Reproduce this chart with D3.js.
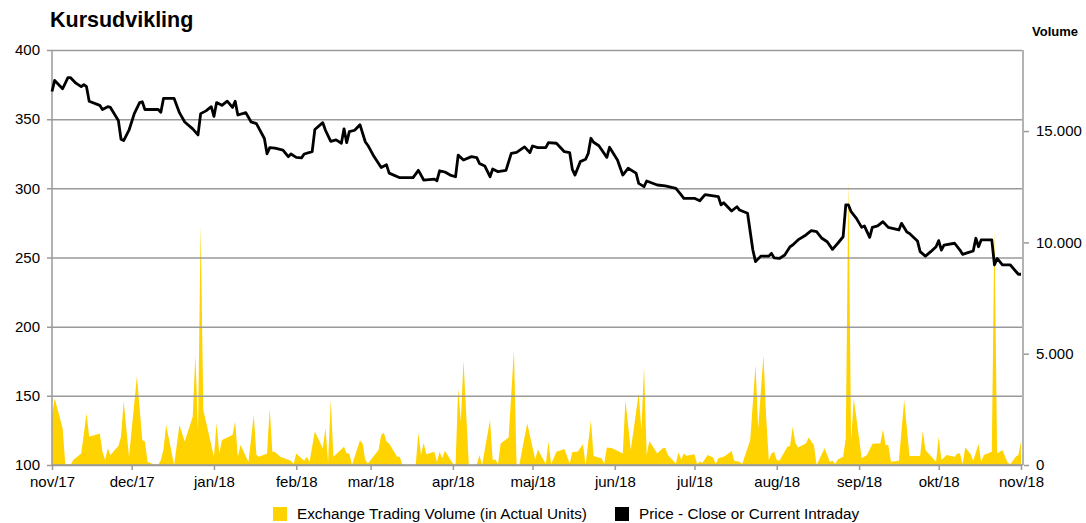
<!DOCTYPE html>
<html>
<head>
<meta charset="utf-8">
<script src="https://cdn.jsdelivr.net/npm/d3@7"></script>
<style>
  body { margin: 0; background: #fff; }
  text { font-family: "Liberation Sans", Arial, sans-serif; }
</style>
</head>
<body>
<div id="my_dataviz"></div>
<script>
// closing price (DKK) per trading day
const priceData = [
  ["2017-11-01",370],["2017-11-02",378],["2017-11-05",372],["2017-11-07",380],["2017-11-08",380],
  ["2017-11-10",376],["2017-11-12",373.5],["2017-11-13",375],["2017-11-14",373.5],["2017-11-15",363],
  ["2017-11-19",360],["2017-11-20",357],["2017-11-22",359],["2017-11-23",358.5],["2017-11-26",349],
  ["2017-11-27",335.5],["2017-11-28",334.5],["2017-11-30",342],["2017-12-02",354],["2017-12-04",362],
  ["2017-12-05",362.6],["2017-12-06",357],["2017-12-11",357],["2017-12-12",355],["2017-12-13",365],
  ["2017-12-17",365],["2017-12-19",354.7],["2017-12-21",348],["2017-12-24",343],["2017-12-26",338.6],
  ["2017-12-27",354],["2017-12-29",356],["2017-12-31",359],["2018-01-01",352],["2018-01-02",362],
  ["2018-01-04",360],["2018-01-06",363],["2018-01-08",358.5],["2018-01-09",363],["2018-01-10",353],
  ["2018-01-13",354.7],["2018-01-15",348],["2018-01-17",346.8],["2018-01-20",336],["2018-01-21",325],
  ["2018-01-22",329.4],["2018-01-24",329],["2018-01-27",327.7],["2018-01-29",322.9],["2018-01-30",324.8],
  ["2018-02-01",322.4],["2018-02-03",322],["2018-02-04",324.8],["2018-02-07",326.5],["2018-02-08",342.5],
  ["2018-02-11",347.5],["2018-02-12",342],["2018-02-14",334],["2018-02-16",335],["2018-02-18",332.6],
  ["2018-02-19",343],["2018-02-20",333],["2018-02-21",341],["2018-02-23",342],["2018-02-25",346],
  ["2018-02-27",333.7],["2018-02-28",331],["2018-03-02",324],["2018-03-05",315],["2018-03-07",317],
  ["2018-03-08",311],["2018-03-12",307.7],["2018-03-17",307.7],["2018-03-19",313],["2018-03-20",309.6],
  ["2018-03-21",306],["2018-03-25",306.7],["2018-03-26",305.5],["2018-03-27",312.7],["2018-03-29",311.8],
  ["2018-03-31",309.6],["2018-04-02",308.4],["2018-04-03",324],["2018-04-05",320.5],["2018-04-08",322.9],
  ["2018-04-10",322.2],["2018-04-11",318],["2018-04-13",316.2],["2018-04-15",308.4],["2018-04-16",314],
  ["2018-04-18",312],["2018-04-21",313],["2018-04-23",325.3],["2018-04-25",326],["2018-04-28",330],
  ["2018-04-30",325.8],["2018-05-01",330.6],["2018-05-03",329.4],["2018-05-06",329.4],["2018-05-07",333],
  ["2018-05-10",332.6],["2018-05-13",326.5],["2018-05-15",325.8],["2018-05-16",313.7],["2018-05-17",309.6],
  ["2018-05-19",319.3],["2018-05-21",321],["2018-05-22",325.3],["2018-05-23",336.2],["2018-05-24",333.3],
  ["2018-05-26",330.8],["2018-05-29",322.4],["2018-05-30",329.7],["2018-06-02",320.5],["2018-06-04",309.6],
  ["2018-06-06",314.5],["2018-06-09",311],["2018-06-10",303.6],["2018-06-12",301.2],["2018-06-13",305.3],
  ["2018-06-17",302.4],["2018-06-20",301.7],["2018-06-24",300],["2018-06-26",295.2],["2018-06-27",292.8],
  ["2018-07-01",292.8],["2018-07-03",291],["2018-07-05",295.5],["2018-07-10",294],["2018-07-11",288],
  ["2018-07-12",289.6],["2018-07-15",283.6],["2018-07-17",286.7],["2018-07-18",284.3],["2018-07-21",282],
  ["2018-07-23",255.4],["2018-07-24",247],["2018-07-26",251],["2018-07-29",251],["2018-07-30",253],
  ["2018-07-31",249.7],["2018-08-02",249.3],["2018-08-04",251.8],["2018-08-06",257.8],["2018-08-07",259],
  ["2018-08-09",262.7],["2018-08-12",266.3],["2018-08-14",269.4],["2018-08-16",268.7],["2018-08-18",263.9],
  ["2018-08-20",261.4],["2018-08-22",255.9],["2018-08-24",260.3],["2018-08-26",265],["2018-08-27",288],
  ["2018-08-28",288],["2018-08-29",283.1],["2018-08-31",278.3],["2018-09-02",271.8],["2018-09-03",272.8],
  ["2018-09-05",264.6],["2018-09-06",271.8],["2018-09-08",272.8],["2018-09-10",275.9],["2018-09-12",271.8],
  ["2018-09-16",269.9],["2018-09-17",274.7],["2018-09-19",268.4],["2018-09-20",267.4],["2018-09-23",262],
  ["2018-09-24",254.2],["2018-09-26",251],["2018-09-28",254.2],["2018-09-30",257.8],["2018-10-01",262.2],
  ["2018-10-02",255.4],["2018-10-03",259],["2018-10-07",260.3],["2018-10-09",255.4],["2018-10-10",252.3],
  ["2018-10-12",253.5],["2018-10-14",254.7],["2018-10-15",263.9],["2018-10-16",257.8],["2018-10-17",262.7],
  ["2018-10-21",262.7],["2018-10-22",244.6],["2018-10-23",249.3],["2018-10-25",244.6],["2018-10-28",244.6],
  ["2018-10-31",237.9],["2018-11-01",237.9]
];

// exchange trading volume (units)
const volumeData = [
  ["2017-11-01",2200],["2017-11-02",3000],["2017-11-05",1650],["2017-11-06",50],["2017-11-08",0],
  ["2017-11-09",220],["2017-11-12",520],["2017-11-14",2320],["2017-11-15",1270],["2017-11-19",1420],
  ["2017-11-20",600],["2017-11-21",220],["2017-11-22",750],["2017-11-23",450],["2017-11-26",850],
  ["2017-11-27",1270],["2017-11-28",2870],["2017-11-30",370],["2017-12-03",4000],["2017-12-05",1120],
  ["2017-12-06",1050],["2017-12-07",150],["2017-12-09",40],["2017-12-11",0],["2017-12-12",220],
  ["2017-12-13",700],["2017-12-14",1800],["2017-12-17",0],["2017-12-19",1800],["2017-12-21",1050],
  ["2017-12-24",2170],["2017-12-25",4940],["2017-12-26",1570],["2017-12-27",10780],["2017-12-28",2470],
  ["2018-01-01",370],["2018-01-02",1870],["2018-01-03",520],["2018-01-04",1120],["2018-01-08",1350],
  ["2018-01-09",1950],["2018-01-10",370],["2018-01-11",900],["2018-01-14",150],["2018-01-16",2250],
  ["2018-01-17",450],["2018-01-18",370],["2018-01-21",520],["2018-01-22",2550],["2018-01-23",600],
  ["2018-01-24",580],["2018-01-26",370],["2018-01-30",190],["2018-01-31",40],["2018-02-01",520],
  ["2018-02-04",190],["2018-02-05",370],["2018-02-06",150],["2018-02-08",1500],["2018-02-11",750],
  ["2018-02-12",1650],["2018-02-13",150],["2018-02-14",2920],["2018-02-15",370],["2018-02-19",820],
  ["2018-02-20",520],["2018-02-21",520],["2018-02-22",0],["2018-02-25",1100],["2018-02-26",970],
  ["2018-02-27",220],["2018-02-28",70],["2018-03-04",670],["2018-03-05",1350],["2018-03-06",1450],
  ["2018-03-07",1050],["2018-03-08",970],["2018-03-11",370],["2018-03-12",370],["2018-03-13",0],
  ["2018-03-18",0],["2018-03-19",1450],["2018-03-20",450],["2018-03-21",1000],["2018-03-22",480],
  ["2018-03-25",600],["2018-03-26",150],["2018-03-27",600],["2018-03-28",300],["2018-03-29",640],
  ["2018-04-01",70],["2018-04-02",0],["2018-04-03",3440],["2018-04-04",1950],["2018-04-05",4710],
  ["2018-04-07",0],["2018-04-10",0],["2018-04-11",450],["2018-04-12",0],["2018-04-15",2020],
  ["2018-04-16",220],["2018-04-17",250],["2018-04-18",40],["2018-04-19",970],["2018-04-22",1240],
  ["2018-04-24",5160],["2018-04-25",0],["2018-04-26",0],["2018-04-29",1870],["2018-05-02",250],
  ["2018-05-03",700],["2018-05-06",40],["2018-05-07",1050],["2018-05-08",40],["2018-05-10",600],
  ["2018-05-13",720],["2018-05-15",70],["2018-05-16",580],["2018-05-18",600],["2018-05-20",930],
  ["2018-05-21",0],["2018-05-23",2020],["2018-05-24",400],["2018-05-27",300],["2018-05-28",70],
  ["2018-05-29",790],["2018-05-31",750],["2018-06-04",520],["2018-06-05",2920],["2018-06-07",670],
  ["2018-06-10",3220],["2018-06-11",1570],["2018-06-12",4410],["2018-06-13",450],["2018-06-14",1080],
  ["2018-06-17",520],["2018-06-19",750],["2018-06-20",780],["2018-06-21",450],["2018-06-24",70],
  ["2018-06-25",570],["2018-06-26",250],["2018-06-27",520],["2018-06-28",420],["2018-07-01",480],
  ["2018-07-02",40],["2018-07-03",150],["2018-07-04",100],["2018-07-06",450],["2018-07-08",340],
  ["2018-07-09",40],["2018-07-10",300],["2018-07-12",370],["2018-07-13",450],["2018-07-15",630],
  ["2018-07-16",190],["2018-07-18",150],["2018-07-19",40],["2018-07-22",1120],["2018-07-24",4490],
  ["2018-07-25",1650],["2018-07-27",4940],["2018-07-28",2170],["2018-07-29",220],["2018-07-30",520],
  ["2018-07-31",600],["2018-08-01",220],["2018-08-02",190],["2018-08-05",820],["2018-08-06",850],
  ["2018-08-07",1720],["2018-08-08",1000],["2018-08-09",790],["2018-08-12",970],["2018-08-13",1230],
  ["2018-08-15",900],["2018-08-16",0],["2018-08-19",750],["2018-08-21",150],["2018-08-22",190],
  ["2018-08-23",40],["2018-08-24",250],["2018-08-26",370],["2018-08-27",1200],["2018-08-28",12800],
  ["2018-08-29",1120],["2018-08-30",3000],["2018-09-02",300],["2018-09-04",450],["2018-09-06",940],
  ["2018-09-07",970],["2018-09-09",970],["2018-09-10",1600],["2018-09-11",900],["2018-09-12",900],
  ["2018-09-13",150],["2018-09-16",190],["2018-09-18",2920],["2018-09-20",400],["2018-09-24",400],
  ["2018-09-25",1540],["2018-09-26",670],["2018-09-30",150],["2018-10-01",1270],["2018-10-02",220],
  ["2018-10-04",450],["2018-10-07",370],["2018-10-08",520],["2018-10-09",520],["2018-10-10",40],
  ["2018-10-11",790],["2018-10-13",490],["2018-10-14",190],["2018-10-16",940],["2018-10-17",150],
  ["2018-10-18",450],["2018-10-21",600],["2018-10-22",10640],["2018-10-23",520],["2018-10-25",670],
  ["2018-10-27",100],["2018-10-28",40],["2018-10-30",370],["2018-10-31",450],["2018-11-01",1050]
];

const priceTicks = [100, 150, 200, 250, 300, 350, 400];
const volumeTicks = [0, 5000, 10000, 15000];
const monthLabels = ["nov/17","dec/17","jan/18","feb/18","mar/18","apr/18","maj/18",
                     "jun/18","jul/18","aug/18","sep/18","okt/18","nov/18"];
const legendItems = [
  {label: "Exchange Trading Volume (in Actual Units)", color: "#ffd300"},
  {label: "Price - Close or Current Intraday", color: "#000"}
];

const W = 1086, H = 523;
const plot = {left: 52, right: 1022, top: 50, bottom: 465};
const gridColor = "#9a9a9a";
const parse = d3.timeParse("%Y-%m-%d");

let svg = d3.select("#my_dataviz")
  .append("svg")
    .attr("width", W)
    .attr("height", H);

// scales
let x = d3.scaleTime()
  .domain([parse("2017-11-01"), parse("2018-11-01")])
  .range([plot.left, plot.right - 1]);

let y = d3.scaleLinear()
  .domain([100, 400])
  .range([plot.bottom, plot.top]);

let yVol = d3.scaleLinear()
  .domain([0, 18640])
  .range([plot.bottom, plot.top]);

const daDK = d3.formatLocale({decimal: ",", thousands: ".", grouping: [3], currency: ["", " kr."]});
const fmtVol = daDK.format(",");

// volume area
const vol = volumeData.map(d => ({date: parse(d[0]), v: d[1]}));
svg.append("path")
  .datum(vol)
  .attr("fill", "#ffd300")
  .attr("d", d3.area()
    .x(d => x(d.date))
    .y0(plot.bottom)
    .y1(d => yVol(d.v)));

// price gridlines (drawn over the volume)
let yAxis = d3.axisLeft(y)
  .tickValues(priceTicks)
  .tickSize(-(plot.right - plot.left) - 5)
  .tickPadding(8)
  .tickFormat(d3.format("d"));

svg.append("g")
  .attr("class", "y-axis")
  .attr("transform", "translate(" + (plot.left - 5) + ",0)")
  .call(yAxis)
  .call(g => g.select(".domain").remove())
  .call(g => g.selectAll(".tick line")
      .attr("x1", 0)
      .attr("x2", plot.right - plot.left + 5)
      .attr("stroke", gridColor).attr("stroke-width", 1.5))
  .call(g => g.selectAll(".tick text")
      .attr("x", -7)
      .style("font-size", "15px").attr("fill", "#000"));

// left + right frame lines
svg.append("line")
  .attr("x1", plot.left).attr("x2", plot.left)
  .attr("y1", plot.top).attr("y2", plot.bottom)
  .attr("stroke", gridColor).attr("stroke-width", 1.5);
svg.append("line")
  .attr("x1", plot.right + 1).attr("x2", plot.right + 1)
  .attr("y1", plot.top).attr("y2", plot.bottom)
  .attr("stroke", gridColor).attr("stroke-width", 1.5);

// right volume axis
let yVolAxis = d3.axisRight(yVol)
  .tickValues(volumeTicks)
  .tickSize(5)
  .tickPadding(7)
  .tickFormat(fmtVol);

svg.append("g")
  .attr("class", "y-vol-axis")
  .attr("transform", "translate(" + (plot.right + 2) + ",0)")
  .call(yVolAxis)
  .call(g => g.select(".domain").remove())
  .call(g => g.selectAll(".tick line").attr("stroke", gridColor).attr("stroke-width", 1.5))
  .call(g => g.selectAll(".tick text").style("font-size", "15px").attr("fill", "#000"));

// x axis: month starts
const monthTicks = d3.timeMonth.range(parse("2017-11-01"), parse("2018-11-02"));
let xAxis = d3.axisBottom(x)
  .tickValues(monthTicks)
  .tickSize(5)
  .tickPadding(6)
  .tickFormat((d, i) => monthLabels[i]);

svg.append("g")
  .attr("class", "x-axis")
  .attr("transform", "translate(0," + plot.bottom + ")")
  .call(xAxis)
  .call(g => g.select(".domain")
      .attr("d", "M" + plot.left + ",0H" + (plot.right + 1))
      .attr("stroke", gridColor).attr("stroke-width", 1.5))
  .call(g => g.selectAll(".tick line").attr("stroke", gridColor).attr("stroke-width", 1.5))
  .call(g => g.selectAll(".tick text").style("font-size", "15px").attr("fill", "#000"));

// price line
const price = priceData.map(d => ({date: parse(d[0]), p: d[1]}));
svg.append("path")
  .datum(price)
  .attr("fill", "none")
  .attr("stroke", "#000")
  .attr("stroke-width", 2.8)
  .attr("stroke-linejoin", "round")
  .attr("d", d3.line()
    .x(d => x(d.date))
    .y(d => y(d.p)));

// title
svg.append("text")
  .attr("x", 50)
  .attr("y", 27)
  .text("Kursudvikling")
  .style("font-size", "21.5px")
  .style("font-weight", "bold");

svg.append("text")
  .attr("x", 1032)
  .attr("y", 36)
  .text("Volume")
  .style("font-size", "13px")
  .style("font-weight", "bold");

// legend
const legendX = [273, 615];
let legend = svg.selectAll(".legend")
  .data(legendItems)
  .enter()
  .append("g")
    .attr("class", "legend")
    .attr("transform", (d, i) => "translate(" + legendX[i] + ",507)");

legend.append("rect")
  .attr("width", 14)
  .attr("height", 14)
  .attr("fill", d => d.color);

legend.append("text")
  .attr("x", 24)
  .attr("y", 12)
  .text(d => d.label)
  .style("font-size", "15.3px");
</script>
</body>
</html>
